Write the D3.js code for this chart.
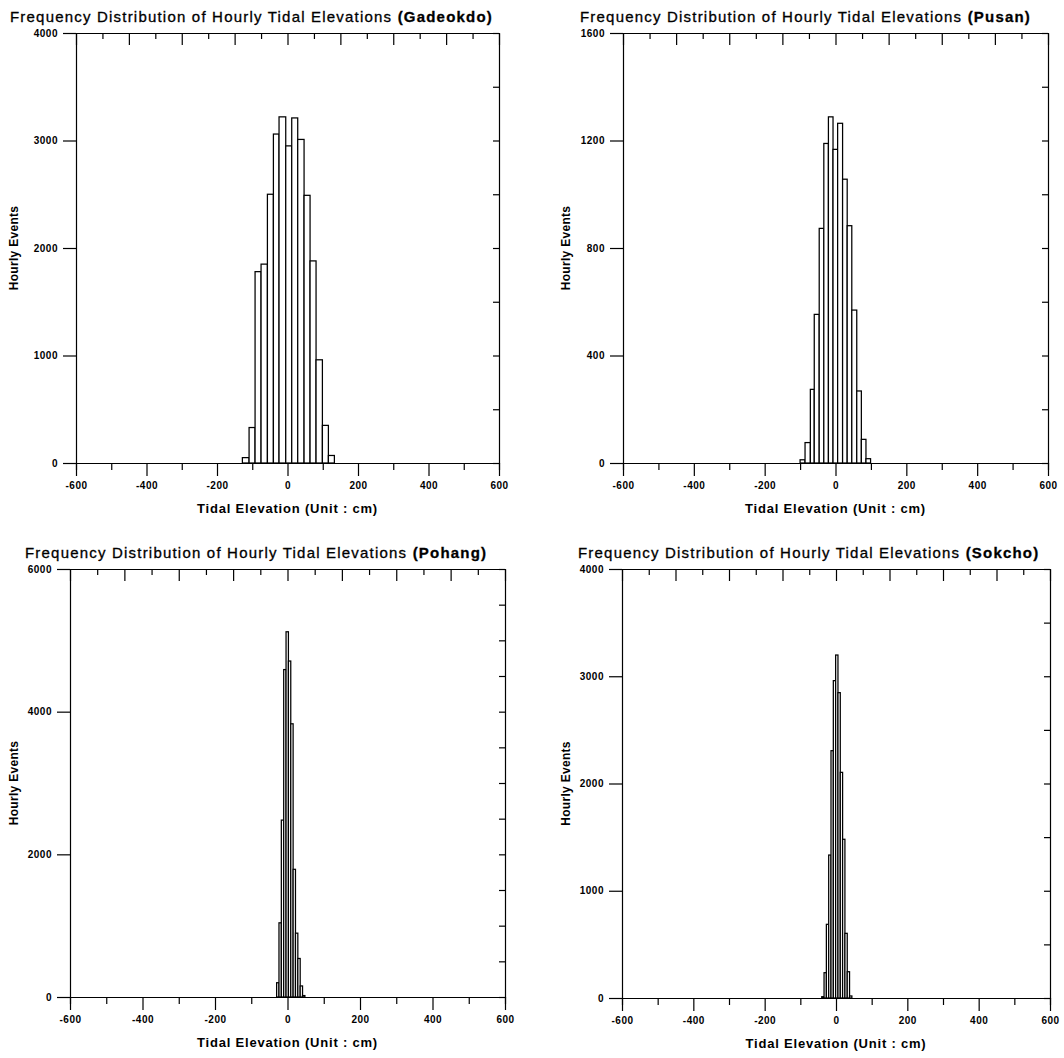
<!DOCTYPE html>
<html lang="en">
<head>
<meta charset="utf-8">
<title>Frequency Distribution of Hourly Tidal Elevations</title>
<script src="https://cdn.jsdelivr.net/npm/d3@7"></script>
<style>
	body { margin: 0; background: #fff; }
	svg { display: block; font-family: "Liberation Sans", Arial, sans-serif; }
	.tick text { font-weight: bold; font-size: 10px; letter-spacing: 0.5px; fill: #000; }
	.domain, .tick line { stroke: #000; stroke-width: 1.2; }
</style>
</head>
<body>
<script>
//Data
var stations = ["Gadeokdo", "Pusan", "Pohang", "Sokcho"];
var xTicks = [-600, -400, -200, 0, 200, 400, 600];

var gadeokdoTicks = [0, 1000, 2000, 3000, 4000];
var gadeokdoEdges = [-128, -109, -92, -75, -57, -40, -24, -5, 12, 29, 47, 64, 81, 99, 116, 133];
var gadeokdoCounts = [50, 330, 1780, 1850, 2500, 3060, 3220, 2950, 3210, 3010, 2490, 1880, 960, 350, 70];

var pusanTicks = [0, 400, 800, 1200, 1600];
var pusanEdges = [-100, -86, -71, -60, -46, -33, -20, -7, 6, 20, 33, 46, 60, 73, 86, 99];
var pusanCounts = [12, 76, 274, 553, 873, 1189, 1288, 1167, 1264, 1056, 883, 569, 268, 88, 16];

var pohangTicks = [0, 2000, 4000, 6000];
var pohangEdges = [-30, -23.5, -17, -10.5, -4, 2.5, 9, 15.5, 22, 28.5, 35, 41.5, 48];
var pohangCounts = [200, 1040, 2480, 4590, 5120, 4710, 3830, 1790, 895, 540, 155, 20];

var sokchoTicks = [0, 1000, 2000, 3000, 4000];
var sokchoEdges = [-40, -33.5, -27, -20.5, -14, -7.5, -1, 5.5, 12, 18.5, 25, 31.5, 38, 44.5];
var sokchoCounts = [12, 236, 687, 1333, 2306, 2959, 3198, 2847, 2104, 1480, 603, 245, 19];

//Panel placement
var panels = [
	{ name: stations[0], edges: gadeokdoEdges, counts: gadeokdoCounts, yTicks: gadeokdoTicks,
	  left: 76, right: 499, top: 33, bottom: 463, titleX: 10, titleY: 22, yLabelX: 18 },
	{ name: stations[1], edges: pusanEdges, counts: pusanCounts, yTicks: pusanTicks,
	  left: 623, right: 1048, top: 33, bottom: 463, titleX: 580, titleY: 22, yLabelX: 570 },
	{ name: stations[2], edges: pohangEdges, counts: pohangCounts, yTicks: pohangTicks,
	  left: 70, right: 505, top: 569, bottom: 997, titleX: 25, titleY: 558, yLabelX: 18 },
	{ name: stations[3], edges: sokchoEdges, counts: sokchoCounts, yTicks: sokchoTicks,
	  left: 622, right: 1050, top: 569, bottom: 998, titleX: 578, titleY: 558, yLabelX: 570 }
];

var w = 1064;
var h = 1058;

var svg = d3.select("body")
	.append("svg")
	.attr("width", w)
	.attr("height", h);

//plain hyphen for negatives, as in the original
var fmt = function(d) { return String(d); };

panels.forEach(function(p) {
	var x = d3.scaleLinear().domain([-600, 600]).range([p.left, p.right]);
	var yMax = p.yTicks[p.yTicks.length - 1];
	var y = d3.scaleLinear().domain([0, yMax]).range([p.bottom, p.top]);

	var g = svg.append("g");

	//bars
	g.selectAll("rect")
		.data(p.counts)
		.enter()
		.append("rect")
		.attr("x", function(d, i) { return x(p.edges[i]); })
		.attr("y", function(d) { return y(d); })
		.attr("width", function(d, i) { return x(p.edges[i + 1]) - x(p.edges[i]); })
		.attr("height", function(d) { return y(0) - y(d); })
		.attr("fill", "#fff")
		.attr("stroke", "#000")
		.attr("stroke-width", 1.25);

	//bottom axis: long labelled ticks, short ticks between
	g.append("g")
		.attr("transform", "translate(0," + p.bottom + ")")
		.call(d3.axisBottom(x).tickValues([-500, -300, -100, 100, 300, 500])
			.tickSize(7).tickFormat(""));
	g.append("g")
		.attr("transform", "translate(0," + p.bottom + ")")
		.call(d3.axisBottom(x).tickValues(xTicks).tickSizeInner(13).tickSizeOuter(0)
			.tickPadding(6).tickFormat(fmt));

	//top frame with inward ticks
	var topLong = d3.range(0, 9).map(function(i) { return -600 + i * 150; });
	var topShort = d3.range(0, 8).map(function(i) { return -525 + i * 150; });
	g.append("g")
		.attr("transform", "translate(0," + p.top + ")")
		.call(d3.axisTop(x).tickValues(topLong).tickSizeInner(-12).tickSizeOuter(0).tickFormat(""));
	g.append("g")
		.attr("transform", "translate(0," + p.top + ")")
		.call(d3.axisTop(x).tickValues(topShort).tickSizeInner(-6).tickSizeOuter(0).tickFormat(""));

	//right frame with inward ticks
	g.append("g")
		.attr("transform", "translate(" + p.right + ",0)")
		.call(d3.axisRight(y).ticks(10).tickSizeInner(-6).tickSizeOuter(0).tickFormat(""));

	//left axis
	g.append("g")
		.attr("transform", "translate(" + p.left + ",0)")
		.call(d3.axisLeft(y).tickValues(p.yTicks).tickSizeInner(13).tickSizeOuter(0)
			.tickPadding(5).tickFormat(fmt));

	//title
	var t = g.append("text")
		.attr("x", p.titleX)
		.attr("y", p.titleY)
		.attr("font-size", "15px")
		.attr("letter-spacing", "1.2px")
		.attr("stroke", "#000")
		.attr("stroke-width", 0.3);
	t.append("tspan").text("Frequency Distribution of Hourly Tidal Elevations ");
	t.append("tspan").attr("font-weight", "bold").text("(" + p.name + ")");

	//axis titles
	g.append("text")
		.attr("x", (p.left + p.right) / 2)
		.attr("y", p.bottom + 50)
		.attr("text-anchor", "middle")
		.attr("font-size", "13px")
		.attr("font-weight", "bold")
		.attr("letter-spacing", "0.8px")
		.text("Tidal Elevation (Unit : cm)");

	g.append("text")
		.attr("transform", "translate(" + p.yLabelX + "," + (p.top + p.bottom) / 2 + ") rotate(-90)")
		.attr("text-anchor", "middle")
		.attr("font-size", "12px")
		.attr("font-weight", "bold")
		.attr("letter-spacing", "0.3px")
		.text("Hourly Events");
});
</script>
</body>
</html>
